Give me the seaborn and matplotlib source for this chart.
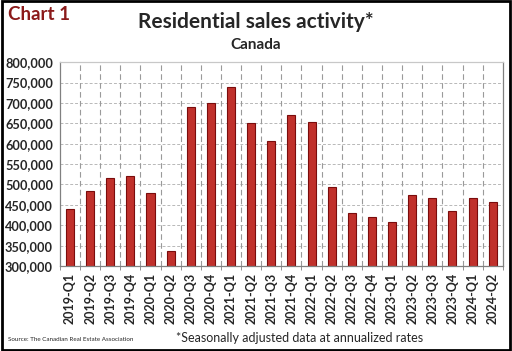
import seaborn as sns
import matplotlib.pyplot as plt
import pandas as pd
from matplotlib.ticker import FuncFormatter, MultipleLocator
from matplotlib.patches import Rectangle

quarters = ['2019-Q1', '2019-Q2', '2019-Q3', '2019-Q4', '2020-Q1', '2020-Q2',
            '2020-Q3', '2020-Q4', '2021-Q1', '2021-Q2', '2021-Q3', '2021-Q4',
            '2022-Q1', '2022-Q2', '2022-Q3', '2022-Q4', '2023-Q1', '2023-Q2',
            '2023-Q3', '2023-Q4', '2024-Q1', '2024-Q2']
sales = [441000, 484000, 516000, 521000, 479000, 338000,
         691000, 699000, 739000, 651000, 606000, 671000,
         653000, 494000, 429000, 421000, 407000, 474000,
         466000, 435000, 466000, 457000]

df = pd.DataFrame({'quarter': quarters, 'sales': sales})

sns.set_style('white')
plt.rcParams['font.family'] = ['Lato', 'DejaVu Sans']

fig = plt.figure(figsize=(5.12, 3.51), dpi=100)
ax = fig.add_axes([0.117, 0.242, 0.865, 0.581])

sns.barplot(data=df, x='quarter', y='sales', color='#c0302b', width=0.4,
            edgecolor='#7a0c0c', linewidth=0.8, saturation=1, ax=ax)

ax.set_ylim(300000, 800000)
ax.set_xlim(-0.5, len(quarters) - 0.5)
ax.yaxis.set_major_locator(MultipleLocator(50000))
ax.yaxis.set_major_formatter(FuncFormatter(lambda v, p: f'{int(v):,}'))
ax.set_xlabel('')
ax.set_ylabel('')

# gridlines
for v in range(350000, 800001, 50000):
    ax.axhline(v, color='#b8b8b8', lw=0.7, ls=(0, (3, 2)), zorder=0)
for i in range(len(quarters) - 1):
    ax.axvline(i + 0.5, color='#9a9a9a', lw=0.8, ls=(0, (5, 3)), zorder=0)

ax.set_xticks([i + 0.5 for i in range(-1, len(quarters))], minor=True)
ax.tick_params(axis='x', which='major', length=0, pad=5)
ax.tick_params(axis='x', which='minor', length=3, color='#808080', direction='out')
ax.tick_params(axis='y', length=3, color='#808080', direction='out', pad=2)
ax.tick_params(axis='x', bottom=True, which='minor')
for lab in ax.get_xticklabels():
    lab.set_rotation(90)
    lab.set_fontsize(9)
    lab.set_fontweight('bold')
for lab in ax.get_yticklabels():
    lab.set_fontsize(9.2)
    lab.set_fontweight('bold')

for s in ['left', 'bottom', 'right', 'top']:
    ax.spines[s].set_visible(True)
    ax.spines[s].set_color('#808080')
    ax.spines[s].set_linewidth(0.9)
ax.spines['top'].set_color('#c8c8c8')

fig.text(0.016, 0.958, 'Chart 1', color='#8b1a1a', fontsize=13.5, fontweight='bold', va='center', ha='left')
fig.text(0.5, 0.937, 'Residential sales activity*', fontsize=15, fontweight='bold', va='center', ha='center')
fig.text(0.5, 0.872, 'Canada', fontsize=11, fontweight='bold', va='center', ha='center')
fig.text(0.586, 0.037, '*Seasonally adjusted data at annualized rates', fontsize=9, va='center', ha='center')
fig.text(0.016, 0.033, 'Source: The Canadian Real Estate Association', fontsize=4.5, va='center', ha='left')

fig.patches.append(Rectangle((0.003, 0.004), 0.994, 0.992, transform=fig.transFigure,
                             fill=False, edgecolor='black', linewidth=2))

fig.savefig('out.png', dpi=100)
